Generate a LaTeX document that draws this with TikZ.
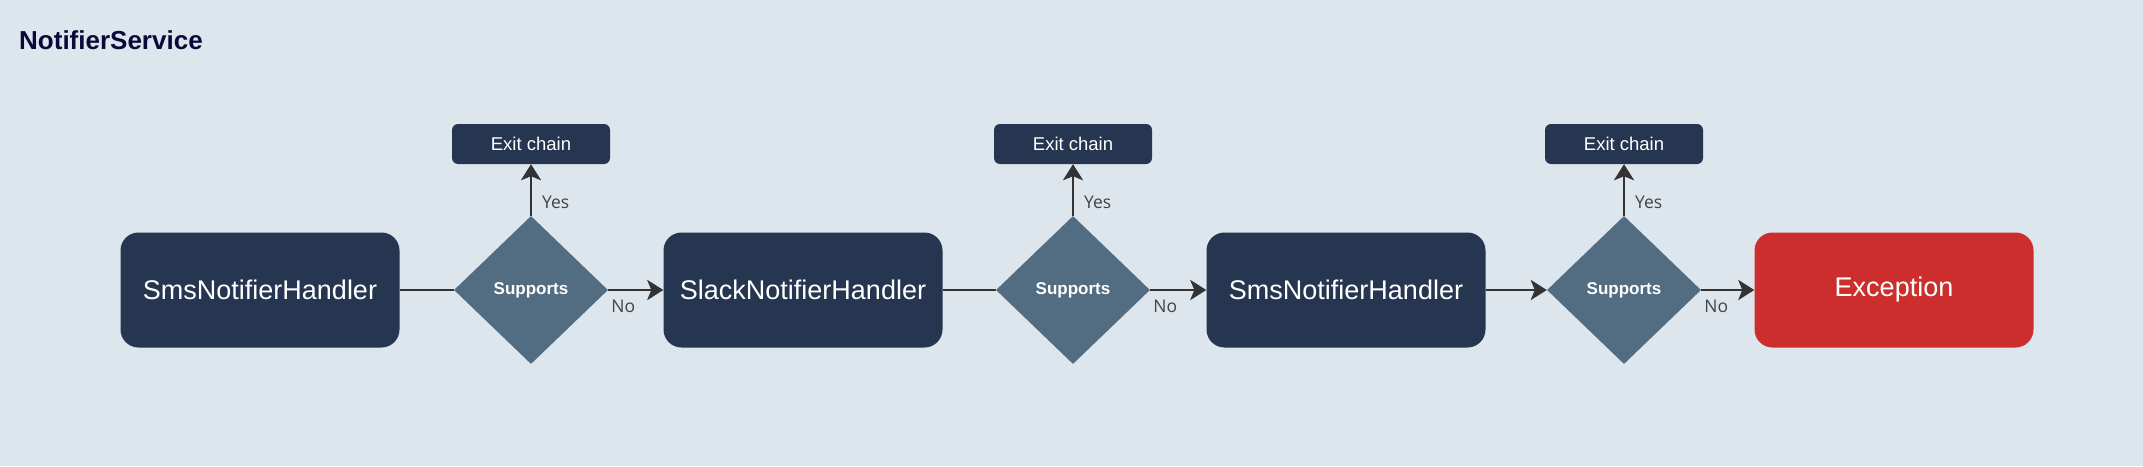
\documentclass[tikz,border=0pt]{standalone}
\usepackage{fontspec}
\setmainfont{Liberation Sans}
\newfontfamily\labelfont{Open Sans}
\usetikzlibrary{shapes.geometric,arrows.meta}
\definecolor{bgc}{HTML}{DDE5ED}
\definecolor{navy}{HTML}{263550}
\definecolor{dia}{HTML}{526C82}
\definecolor{excred}{HTML}{CC2E2E}
\definecolor{linec}{HTML}{333333}
\definecolor{lblc}{HTML}{444444}
\definecolor{titlec}{HTML}{0A0A3A}
\begin{document}
\begin{tikzpicture}[x=1pt,y=-1pt,
  handler/.style={rectangle, rounded corners=18pt, fill=navy, text=white,
    minimum width=279pt, minimum height=115pt, inner sep=0pt,
    font=\fontsize{27}{32}\selectfont},
  decision/.style={diamond, fill=dia, text=white, minimum width=154pt,
    minimum height=148pt, inner sep=0pt, font=\bfseries\fontsize{17}{20}\selectfont},
  exitbox/.style={rectangle, rounded corners=6pt, fill=navy, text=white,
    minimum width=158pt, minimum height=40pt, inner sep=0pt,
    font=\fontsize{18.5}{22}\selectfont},
  conn/.style={draw=linec, line width=2.8pt},
  arr/.style={conn, -{Stealth[length=16pt,width=20pt,inset=4pt]}},
  lbl/.style={text=lblc, font=\labelfont\fontsize{17.5}{21}\selectfont, inner sep=0pt, anchor=west}
]
\fill[bgc] (0,0) rectangle (2143,466);
\useasboundingbox (0,0) rectangle (2143,466);
\node[anchor=west, text=titlec, inner sep=0pt, font=\bfseries\fontsize{26}{30}\selectfont] (title) at (19,40) {NotifierService};

\node[handler] (h1) at (260,290) {SmsNotifierHandler};
\node[decision] (d1) at (531,290) {Supports};
\node[exitbox] (e1) at (531,144) {Exit chain};
\node[handler] (h2) at (803,290) {SlackNotifierHandler};
\node[decision] (d2) at (1073,290) {Supports};
\node[exitbox] (e2) at (1073,144) {Exit chain};
\node[handler] (h3) at (1346,290) {SmsNotifierHandler};
\node[decision] (d3) at (1624,290) {Supports};
\node[exitbox] (e3) at (1624,144) {Exit chain};
\node[handler, fill=excred] (ex) at (1894,290) {Exception};

\draw[conn] (h1.east) -- (d1.west);
\draw[conn] (h2.east) -- (d2.west);
\draw[arr] (h3.east) -- (d3.west);
\draw[arr] (d1.east) -- (h2.west);
\draw[arr] (d2.east) -- (h3.west);
\draw[arr] (d3.east) -- (ex.west);
\draw[arr] (d1.north) -- (e1.south);
\draw[arr] (d2.north) -- (e2.south);
\draw[arr] (d3.north) -- (e3.south);

\node[lbl] (y1) at ([xshift=11pt,yshift=13pt]d1.north) {Yes};
\node[lbl] (y2) at ([xshift=11pt,yshift=13pt]d2.north) {Yes};
\node[lbl] (y3) at ([xshift=11pt,yshift=13pt]d3.north) {Yes};
\node[lbl] (n1) at ([xshift=3pt,yshift=-16pt]d1.east) {No};
\node[lbl] (n2) at ([xshift=3pt,yshift=-16pt]d2.east) {No};
\node[lbl] (n3) at ([xshift=3pt,yshift=-16pt]d3.east) {No};
\end{tikzpicture}
\end{document}
